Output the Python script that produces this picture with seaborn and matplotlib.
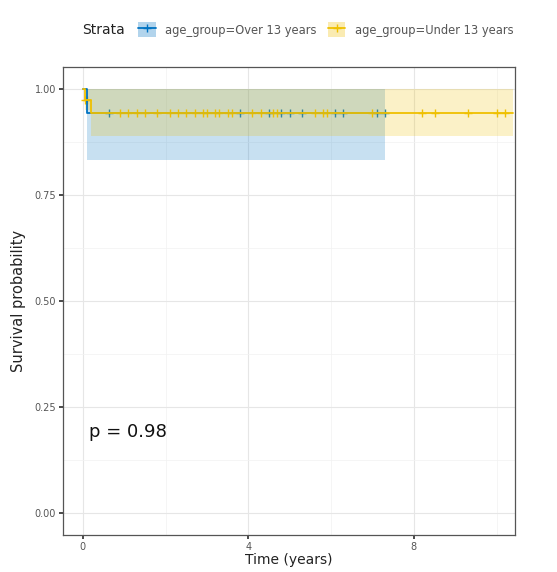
import numpy as np
import pandas as pd
import matplotlib
matplotlib.use("Agg")
import matplotlib.pyplot as plt
import seaborn as sns
from matplotlib.lines import Line2D
from matplotlib.patches import Patch

sns.set_theme(style="whitegrid")
plt.rcParams['font.family'] = ['DejaVu Sans']

# ---- data ----
strata = ["age_group=Over 13 years", "age_group=Under 13 years"]
colors = ["#0073C2", "#EFC000"]

over_time = [0.0, 0.1, 7.3]
over_surv = [1.0, 0.943, 0.943]
over_upper = [1.0, 1.0, 1.0]
over_lower = [1.0, 0.833, 0.833]
over_censor = [0.63, 3.8, 4.5, 4.8, 5.0, 5.3, 6.1, 6.3, 7.1, 7.3]

under_time = [0.0, 0.05, 0.2, 10.4]
under_surv = [1.0, 0.975, 0.943, 0.943]
under_upper = [1.0, 1.0, 1.0, 1.0]
under_lower = [1.0, 0.95, 0.888, 0.888]
under_censor = [0.05, 0.1, 0.9, 1.1, 1.3, 1.5, 1.8, 2.1, 2.3, 2.5, 2.7, 2.9,
                3.0, 3.2, 3.3, 3.5, 3.6, 4.1, 4.3, 4.6, 4.7, 5.6, 5.8, 5.9,
                7.0, 8.2, 8.5, 9.3, 10.0, 10.2]

p_text = "p = 0.98"
xticks = [0, 4, 8]
yticks = [0.00, 0.25, 0.50, 0.75, 1.00]

fig = plt.figure(figsize=(5.57, 5.72), dpi=100)
ax = fig.add_axes([0.113, 0.065, 0.812, 0.818])

series = [
    (strata[0], over_time, over_surv, over_upper, over_lower, over_censor, colors[0]),
    (strata[1], under_time, under_surv, under_upper, under_lower, under_censor, colors[1]),
]

for name, t, s, up, lo, cens, col in series:
    ax.fill_between(t, lo, up, step="post", color=col, alpha=0.22, linewidth=0)
    df = pd.DataFrame({"time": t, "surv": s})
    sns.lineplot(data=df, x="time", y="surv", drawstyle="steps-post", color=col,
                 linewidth=1.3, ax=ax, estimator=None, legend=False)
    idx = np.searchsorted(np.array(t), np.array(cens), side="right") - 1
    cy = np.array(s)[idx]
    cdf = pd.DataFrame({"time": cens, "surv": cy})
    sns.scatterplot(data=cdf, x="time", y="surv", marker="+", color=col, s=40,
                    linewidth=1.0, ax=ax, legend=False)

ax.set_xlim(-0.48, 10.45)
ax.set_ylim(-0.052, 1.052)
ax.set_xticks(xticks)
ax.set_xticklabels([str(v) for v in xticks])
ax.set_yticks(yticks)
ax.set_yticklabels([f"{v:.2f}" for v in yticks])
ax.set_xticks([2, 6, 10], minor=True)
ax.set_yticks([0.125, 0.375, 0.625, 0.875], minor=True)
ax.grid(True, which="major", color="#e6e6e6", linewidth=0.8)
ax.grid(True, which="minor", color="#f2f2f2", linewidth=0.5)
for sp in ax.spines.values():
    sp.set_color("#555555")
    sp.set_linewidth(0.9)
ax.tick_params(axis="both", which="major", labelsize=7, labelcolor="#555555",
               length=3, color="#333333", left=True, bottom=True, pad=2)
ax.tick_params(axis="both", which="minor", length=0)
ax.set_xlabel("Time (years)", fontsize=10, color="#222222", labelpad=1)
ax.set_ylabel("Survival probability", fontsize=10.5, color="#222222", labelpad=6)

ax.text(0.15, 0.19, p_text, fontsize=13, color="#111111", ha="left", va="center")

handles = []
for col in colors:
    handles.append((Patch(facecolor=col, alpha=0.3, edgecolor="none"),
                    Line2D([], [], color=col, linewidth=1.3, marker="+", markersize=6)))
fig.text(0.148, 0.948, "Strata", fontsize=10, color="#222222", ha="left", va="center")
fig.legend(handles, strata, loc="center left", bbox_to_anchor=(0.23, 0.948), ncol=2,
           frameon=False, fontsize=8.3, handlelength=1.5, handleheight=1.6,
           columnspacing=1.0, handletextpad=0.8, labelcolor="#555555")

fig.savefig("out.png", dpi=100)
